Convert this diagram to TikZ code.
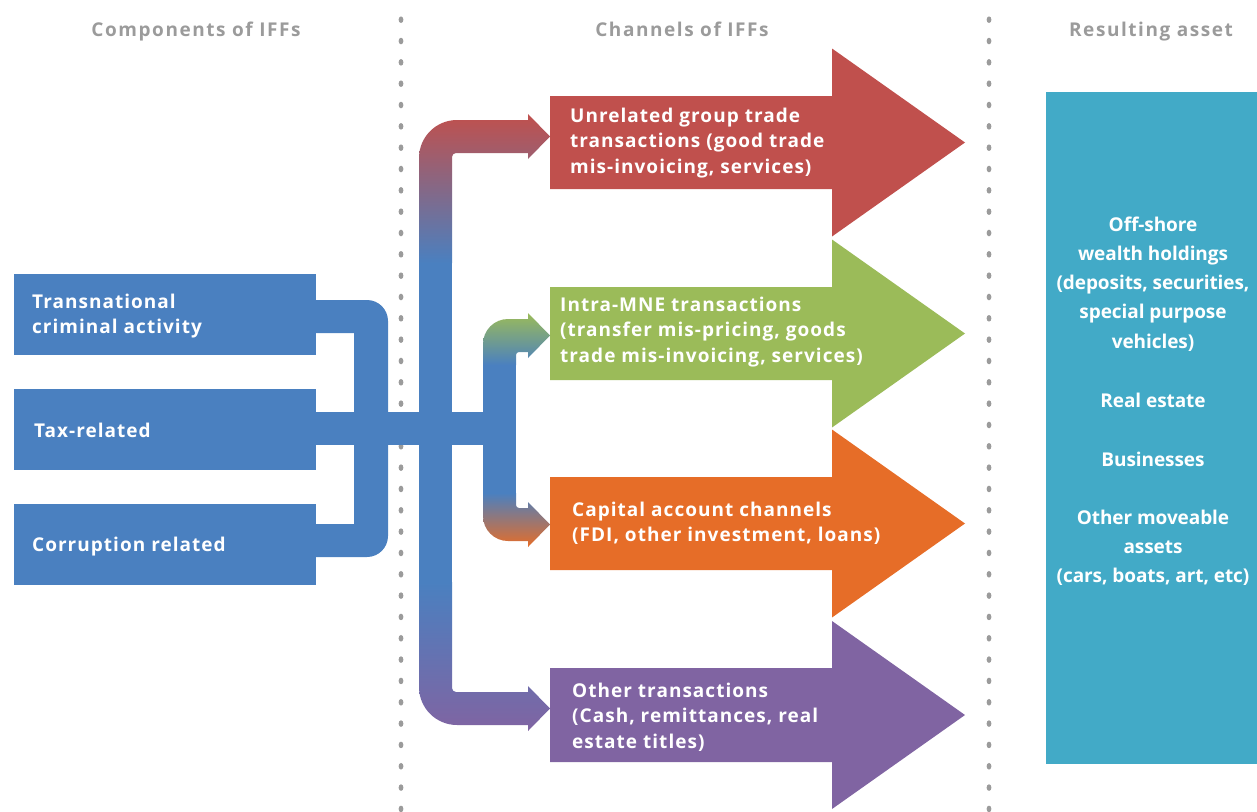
\documentclass[tikz,border=0pt]{standalone}
\usepackage{fontspec}
\setmainfont{Open Sans}
\newfontfamily\fTrack{Open Sans}[LetterSpace=5.4]
\newfontfamily\fHead{Open Sans}[LetterSpace=8.2]
\newfontfamily\fRight{Open Sans}[LetterSpace=-0.4]
\definecolor{cblue}{HTML}{4A80C0}
\definecolor{cred}{HTML}{C0504D}
\definecolor{cgreen}{HTML}{9BBB59}
\definecolor{corange}{HTML}{E66D28}
\definecolor{cpurple}{HTML}{8064A2}
\definecolor{cteal}{HTML}{42AAC7}
\definecolor{cgray}{HTML}{9B9B9B}
\newcommand\lblock[1]{\begin{tabular}[t]{@{}l@{}}#1\end{tabular}}
\newcommand\cblock[1]{\begin{tabular}[t]{@{}c@{}}#1\end{tabular}}
\begin{document}
\begin{tikzpicture}[x=1pt,y=-1pt,
  txt/.style={text=white,inner sep=0pt,anchor=base west,font=\fTrack\fontsize{19}{25.5}\selectfont\bfseries},
  rtxt/.style={text=white,inner sep=0pt,anchor=base,font=\fRight\fontsize{19}{29.3}\selectfont\bfseries},
  head/.style={text=cgray,inner sep=0pt,anchor=base,font=\fHead\fontsize{19}{24}\selectfont\bfseries},
  box/.style={fill=cblue,draw=none,inner sep=0pt,minimum width=302pt,minimum height=81pt},
  dot/.style={fill=cgray}]
\useasboundingbox (0,0) rectangle (1257,811);
% dotted separators
\foreach \i in {0,...,37} {
  \fill[dot] (401,19.7+21.33*\i) ellipse [x radius=2.4pt, y radius=3.3pt];
  \fill[dot] (989,19.7+21.33*\i) ellipse [x radius=2.4pt, y radius=3.3pt];
}
% headers
\node[head] (h1) at (196,36) {Components of IFFs};
\node[head] (h2) at (682,36) {Channels of IFFs};
\node[head] (h3) at (1151,36) {Resulting asset};
% left boxes
\node[box] (b1) at (165,314.5) {};
\node[box] (b2) at (165,429.5) {};
\node[box] (b3) at (165,544.5) {};
\node[txt] (t1) at (32,308) {\lblock{Transnational\\criminal activity}};
\node[txt] (t2) at (34,437) {Tax-related};
\node[txt] (t3) at (32,551) {Corruption related};
% big arrows
\fill[cred] (550,96) -- (832,96) -- (832,48.5) -- (965,142.5) -- (832,236.5) -- (832,189) -- (550,189) -- cycle;
\fill[cgreen] (550,287) -- (832,287) -- (832,239.5) -- (965,333.5) -- (832,427.5) -- (832,380) -- (550,380) -- cycle;
\fill[corange] (550,477) -- (832,477) -- (832,429.5) -- (965,523.5) -- (832,617.5) -- (832,570) -- (550,570) -- cycle;
\fill[cpurple] (550,668) -- (832,668) -- (832,621) -- (965,715) -- (832,809) -- (832,762) -- (550,762) -- cycle;
\node[txt] (a1) at (570,122) {\lblock{Unrelated group trade\\transactions (good trade\\mis-invoicing, services)}};
\node[txt] (a2) at (560,311) {\lblock{Intra-MNE transactions\\(transfer mis-pricing, goods\\trade mis-invoicing, services)}};
\node[txt] (a3) at (572,516) {\lblock{Capital account channels\\(FDI, other investment, loans)}};
\node[txt] (a4) at (572,697) {\lblock{Other transactions\\(Cash, remittances, real\\estate titles)}};
% resulting asset
\fill[cteal] (1046,92) rectangle (1257,764);
\node[rtxt] (r1) at (1153,231) {\cblock{Off-shore\\wealth holdings\\(deposits, securities,\\special purpose\\vehicles)}};
\node[rtxt] (r2) at (1153,407) {Real estate};
\node[rtxt] (r3) at (1153,466) {Businesses};
\node[rtxt] (r4) at (1153,524) {\cblock{Other moveable\\assets\\(cars, boats, art, etc)}};
% blue pipes
\fill[cblue] (316,300) -- (367,300) arc[start angle=270,end angle=360,radius=21] -- (388,420) -- (354,420) -- (354,333) -- (316,333) -- cycle;
\fill[cblue] (316,557) -- (367,557) arc[start angle=90,end angle=0,radius=21] -- (388,440) -- (354,440) -- (354,524) -- (316,524) -- cycle;
\fill[cblue] (316,412) rectangle (516,445);
\fill[cblue] (419,262) rectangle (452,583);
\fill[cblue] (483,364) rectangle (516,494);
% gradient branches
\shade[top color=cred,middle color=cpurple,bottom color=cblue]
  (419,263) -- (419,158) arc[start angle=180,end angle=270,radius=38] -- (528,120) -- (528,114) -- (550,136.5) -- (528,159) -- (528,153) -- (456,153) arc[start angle=270,end angle=180,radius=4] -- (452,263) -- cycle;
\shade[top color=cblue,bottom color=cpurple]
  (419,582) -- (419,687) arc[start angle=180,end angle=90,radius=38] -- (528,725) -- (528,731) -- (550,708.5) -- (528,686) -- (528,692) -- (456,692) arc[start angle=90,end angle=180,radius=4] -- (452,582) -- cycle;
\shade[top color=cgreen,bottom color=cblue]
  (483,365) -- (483,344) arc[start angle=180,end angle=270,radius=25] -- (528,319) -- (528,313) -- (550,335.5) -- (528,358) -- (528,352) -- (519,352) arc[start angle=270,end angle=180,radius=3] -- (516,365) -- cycle;
\shade[top color=cblue,bottom color=corange]
  (483,493) -- (483,516) arc[start angle=180,end angle=90,radius=25] -- (528,541) -- (528,547) -- (550,524.5) -- (528,502) -- (528,508) -- (519,508) arc[start angle=90,end angle=180,radius=3] -- (516,493) -- cycle;
\end{tikzpicture}
\end{document}
